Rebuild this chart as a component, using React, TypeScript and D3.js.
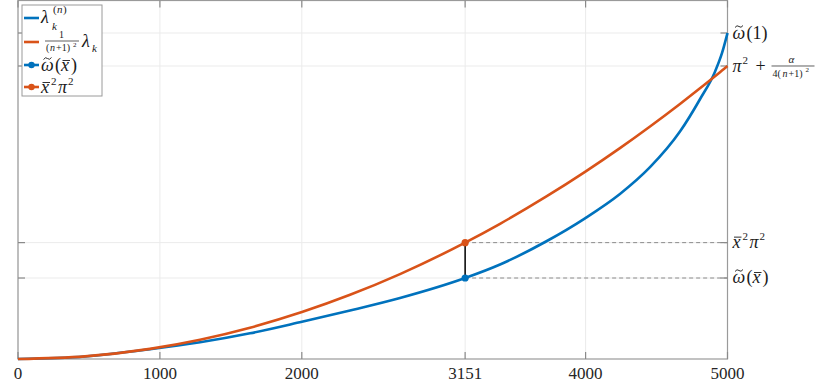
import * as d3 from "d3";
import { useEffect, useRef } from "react";

// sample index k (n = 5000)
const kValues = [0, 472, 930, 1283, 1635, 2001, 2340, 2692, 3151, 3397, 3721, 3996, 4242, 4454, 4665, 4806, 4912, 4961, 5000];
// lambda_k^(n)  (blue)
const lambdaN = [0, 0.084, 0.327, 0.563, 0.866, 1.256, 1.634, 2.055, 2.728, 3.183, 3.958, 4.739, 5.558, 6.46, 7.66, 8.75, 9.68, 10.3, 10.981];
// lambda_k / (n+1)^2  (orange)
const lambdaScaled = [0, 0.088, 0.342, 0.65, 1.055, 1.581, 2.162, 2.861, 3.92, 4.555, 5.466, 6.304, 7.103, 7.832, 8.591, 9.119, 9.525, 9.717, 9.87];

const xTicks = [0, 1000, 2000, 3151, 4000, 5000];
const kBar = 3151;
const omegaBar = 2.728;
const xBarPi = 3.92;
const yTicks = [omegaBar, xBarPi, 9.87, 10.981];

const BLUE = "#0072BD";
const ORANGE = "#D95319";
const FONT = "'Liberation Serif', 'DejaVu Serif', serif";

function Chart() {
    const svgRef = useRef(null);

    useEffect(() => {
        const svg = d3.select(svgRef.current);
        svg.selectAll("*").remove();

        const left = 18, right = 727.5, top = 0.5, bottom = 359;
        const x = d3.scaleLinear().domain([0, 5000]).range([left, right]);
        const y = d3.scaleLinear().domain([0, 12.076]).range([bottom, top]);

        // grid
        const grid = svg.append("g");
        grid.selectAll(".vg").data(xTicks).join("line")
            .attr("x1", d => x(d)).attr("x2", d => x(d))
            .attr("y1", top).attr("y2", bottom)
            .attr("stroke", "#ebebeb").attr("stroke-width", 1);
        grid.selectAll(".hg").data(yTicks).join("line")
            .attr("x1", left).attr("x2", right)
            .attr("y1", d => y(d)).attr("y2", d => y(d))
            .attr("stroke", "#ebebeb").attr("stroke-width", 1);

        // axes box
        svg.append("rect")
            .attr("x", left).attr("y", top)
            .attr("width", right - left).attr("height", bottom - top)
            .attr("fill", "none").attr("stroke", "#9a9a9a").attr("stroke-width", 1.2);

        // ticks (inward, all four sides)
        const tk = svg.append("g").attr("stroke", "#8a8a8a").attr("stroke-width", 1.2);
        xTicks.forEach(t => {
            tk.append("line").attr("x1", x(t)).attr("x2", x(t)).attr("y1", bottom).attr("y2", bottom - 7);
            tk.append("line").attr("x1", x(t)).attr("x2", x(t)).attr("y1", top).attr("y2", top + 7);
        });
        yTicks.forEach(t => {
            tk.append("line").attr("x1", left).attr("x2", left + 7).attr("y1", y(t)).attr("y2", y(t));
            tk.append("line").attr("x1", right).attr("x2", right - 7).attr("y1", y(t)).attr("y2", y(t));
        });

        // x tick labels
        svg.append("g").selectAll("text").data(xTicks).join("text")
            .attr("x", d => x(d)).attr("y", bottom + 20)
            .attr("text-anchor", "middle")
            .attr("font-family", FONT).attr("font-size", 17).attr("fill", "#262626")
            .text(d => d);

        // dashed helper lines
        [xBarPi, omegaBar].forEach(v => {
            svg.append("line")
                .attr("x1", x(kBar)).attr("x2", right)
                .attr("y1", y(v)).attr("y2", y(v))
                .attr("stroke", "#8c8c8c").attr("stroke-width", 1)
                .attr("stroke-dasharray", "4,3");
        });

        const line = d3.line()
            .x((d, i) => x(kValues[i]))
            .y(d => y(d))
            .curve(d3.curveMonotoneX);

        svg.append("path").datum(lambdaN)
            .attr("d", line).attr("fill", "none")
            .attr("stroke", BLUE).attr("stroke-width", 2.6);
        svg.append("path").datum(lambdaScaled)
            .attr("d", line).attr("fill", "none")
            .attr("stroke", ORANGE).attr("stroke-width", 2.6);

        // connector + markers
        svg.append("line")
            .attr("x1", x(kBar)).attr("x2", x(kBar))
            .attr("y1", y(omegaBar)).attr("y2", y(xBarPi))
            .attr("stroke", "#000").attr("stroke-width", 1.5);
        svg.append("circle").attr("cx", x(kBar)).attr("cy", y(omegaBar)).attr("r", 3.6).attr("fill", BLUE);
        svg.append("circle").attr("cx", x(kBar)).attr("cy", y(xBarPi)).attr("r", 3.6).attr("fill", ORANGE);

        // math helpers
        const txt = (g, s, px, py, size, italic) =>
            g.append("text").attr("x", px).attr("y", py)
                .attr("font-family", FONT).attr("font-size", size)
                .attr("font-style", italic ? "italic" : "normal")
                .attr("fill", "#1a1a1a").text(s);
        const rule = (g, x1, x2, yy, w) =>
            g.append("line").attr("x1", x1).attr("x2", x2).attr("y1", yy).attr("y2", yy)
                .attr("stroke", "#1a1a1a").attr("stroke-width", w);
        const tilde = (g, px, py) =>
            g.append("path")
                .attr("d", `M${px},${py + 1.5} q2,-3 4,-1 t4,-1`)
                .attr("fill", "none").attr("stroke", "#1a1a1a").attr("stroke-width", 0.9);

        const omegaTilde = (g, px, py) => {
            txt(g, "ω", px, py, 18, true);
            tilde(g, px + 2.5, py - 13);
        };
        const xBar = (g, px, py) => {
            txt(g, "x", px, py, 18, true);
            rule(g, px + 1.5, px + 9, py - 10.5, 0.9);
        };

        // right-side labels
        const R = svg.append("g");
        const lx = right + 5;
        // omega~(1)
        const o1 = y(10.981) + 6;
        omegaTilde(R, lx, o1);
        txt(R, "(1)", lx + 14, o1, 18, false);
        // pi^2 + alpha / (4(n+1)^2)
        const py = y(9.87) + 6;
        txt(R, "π", lx, py, 18, true);
        txt(R, "2", lx + 10, py - 8, 11, false);
        txt(R, "+", lx + 23, py, 18, false);
        txt(R, "α", lx + 56, py - 9, 11, true);
        rule(R, lx + 39, lx + 82, py - 6, 0.7);
        txt(R, "4(", lx + 40, py + 5, 10, false);
        txt(R, "n", lx + 50, py + 5, 10, true);
        txt(R, "+1)", lx + 56, py + 5, 10, false);
        txt(R, "2", lx + 73, py, 7, false);
        // xbar^2 pi^2
        const xb = y(xBarPi) + 5;
        xBar(R, lx, xb);
        txt(R, "2", lx + 10, xb - 8, 11, false);
        txt(R, "π", lx + 17, xb, 18, true);
        txt(R, "2", lx + 27, xb - 8, 11, false);
        // omega~(xbar)
        const ob = y(omegaBar) + 5;
        omegaTilde(R, lx, ob);
        txt(R, "(", lx + 14, ob, 18, false);
        xBar(R, lx + 20, ob);
        txt(R, ")", lx + 30, ob, 18, false);

        // legend
        const L = svg.append("g");
        L.append("rect").attr("x", 22).attr("y", 5).attr("width", 80).attr("height", 91)
            .attr("fill", "#fff").attr("stroke", "#9a9a9a").attr("stroke-width", 1);
        const sample = (cy, color, marker) => {
            L.append("line").attr("x1", 24).attr("x2", 39).attr("y1", cy).attr("y2", cy)
                .attr("stroke", color).attr("stroke-width", 2.6);
            if (marker) L.append("circle").attr("cx", 31.5).attr("cy", cy).attr("r", 3.2).attr("fill", color);
        };
        sample(18, BLUE, false);
        txt(L, "λ", 41, 23, 18, true);
        txt(L, "(", 53, 13, 11, false);
        txt(L, "n", 57, 13, 11, true);
        txt(L, ")", 63, 13, 11, false);
        txt(L, "k", 52, 30, 11, true);

        sample(42, ORANGE, false);
        txt(L, "1", 59, 38, 10, false);
        rule(L, 45, 79, 41, 0.7);
        txt(L, "(", 46, 51, 10, false);
        txt(L, "n", 50, 51, 10, true);
        txt(L, "+1)", 56, 51, 10, false);
        txt(L, "2", 73, 47, 7, false);
        txt(L, "λ", 82, 47, 18, true);
        txt(L, "k", 92, 52, 11, true);

        sample(65, BLUE, true);
        omegaTilde(L, 41, 71);
        txt(L, "(", 55, 71, 18, false);
        xBar(L, 61, 71);
        txt(L, ")", 71, 71, 18, false);

        sample(87, ORANGE, true);
        xBar(L, 41, 93);
        txt(L, "2", 51, 85, 11, false);
        txt(L, "π", 58, 93, 18, true);
        txt(L, "2", 68, 85, 11, false);
    }, []);

    return (
        <svg ref={svgRef} width={817} height={385}
            style={{ position: "absolute", left: 0, top: 0, background: "#fff" }} />
    );
}

export default function App() {
    return <Chart />;
}
